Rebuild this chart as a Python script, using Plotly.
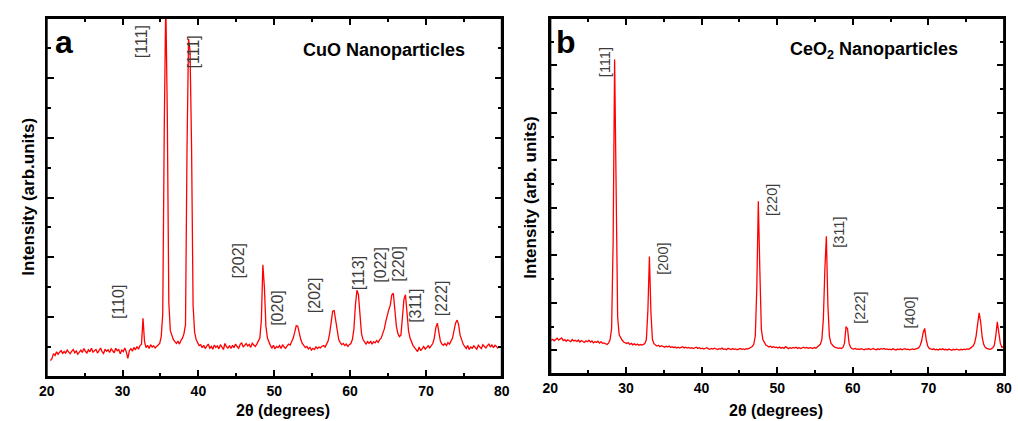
import plotly.graph_objects as go

# ---------------- data ----------------
# CuO pattern: 2theta sampled every 0.2 deg from 20.5 deg
cuo_start, cuo_step = 20.5, 0.2
cuo_intensity = [
    0.55, 0.62, 0.78, 0.72, 0.84, 0.76, 0.83, 0.88, 0.79, 0.85,   # 20.5
    0.80, 0.90, 0.83, 0.78, 0.86, 0.92, 0.81, 0.87, 0.76, 0.84,   # 22.5
    0.90, 0.82, 0.95, 0.86, 0.80, 0.91, 0.84, 0.96, 0.83, 0.88,   # 24.5
    0.92, 0.80, 0.89, 0.97, 0.85, 0.79, 0.93, 0.86, 0.91, 0.82,   # 26.5
    0.94, 0.87, 0.81, 0.96, 0.88, 0.92, 0.78, 0.90, 0.85, 0.97,   # 28.5
    0.84, 0.62, 0.88, 0.95, 0.86, 0.99, 0.91, 1.02, 0.93, 1.05,   # 30.5
    1.10, 1.96, 1.18, 0.98, 1.06, 0.95, 1.08, 1.00, 1.04, 0.97,   # 32.5
    1.03, 1.08, 1.12, 1.35, 2.10, 8.30, 12.60, 8.80, 2.50, 1.55,  # 34.5
    1.35, 1.25, 1.18, 1.12, 1.20, 1.10, 1.22, 1.30, 1.45, 1.75,   # 36.5
    7.60, 11.30, 10.90, 7.70, 2.40, 1.50, 1.25, 1.12, 1.05, 1.08, # 38.5
    0.98, 1.06, 0.95, 1.03, 1.10, 0.96, 1.02, 0.93, 1.07, 0.99,   # 40.5
    1.04, 0.94, 1.08, 1.00, 0.92, 1.12, 1.01, 0.97, 1.05, 0.95,   # 42.5
    1.06, 0.98, 1.10, 1.02, 0.96, 1.08, 1.15, 1.00, 1.06, 1.12,   # 44.5
    1.04, 1.09, 0.99, 1.13, 1.07, 1.02, 1.10, 1.18, 1.30, 1.90,   # 46.5
    3.75, 3.00, 1.70, 1.30, 1.15, 1.05, 0.97, 1.06, 0.94, 1.02,   # 48.5
    0.98, 1.05, 0.95, 1.08, 1.00, 0.96, 1.04, 1.10, 1.07, 1.18,   # 50.5
    1.30, 1.50, 1.72, 1.70, 1.45, 1.25, 1.12, 1.05, 0.98, 1.02,   # 52.5
    0.94, 0.99, 0.90, 0.96, 0.92, 1.01, 0.95, 1.00, 0.97, 1.03,   # 54.5
    1.05, 1.00, 1.10, 1.20, 1.45, 1.85, 2.20, 2.22, 1.90, 1.50,   # 56.5
    1.25, 1.15, 1.08, 1.12, 1.05, 1.10, 1.02, 1.08, 1.12, 1.25,   # 58.5
    1.60, 2.40, 2.90, 2.75, 2.00, 1.45, 1.25, 1.15, 1.10, 1.18,   # 60.5
    1.12, 1.20, 1.10, 1.18, 1.14, 1.22, 1.16, 1.25, 1.30, 1.45,   # 62.5
    1.60, 1.85, 2.10, 2.25, 2.40, 2.75, 2.80, 2.30, 1.70, 1.45,   # 64.5
    1.35, 1.40, 1.90, 2.60, 2.75, 2.10, 1.55, 1.30, 1.15, 1.05,   # 66.5
    0.98, 0.92, 0.85, 1.00, 0.88, 0.95, 1.02, 0.93, 0.99, 1.04,   # 68.5
    0.97, 1.05, 1.12, 1.30, 1.65, 1.80, 1.45, 1.20, 1.10, 1.06,   # 70.5
    1.12, 1.05, 1.15, 1.10, 1.20, 1.30, 1.55, 1.80, 1.90, 1.75,   # 72.5
    1.40, 1.20, 1.10, 1.02, 0.95, 1.05, 0.92, 1.00, 0.96, 1.04,   # 74.5
    0.98, 0.93, 1.06, 1.00, 0.95, 1.08, 1.02, 0.97, 1.05, 1.10,   # 76.5
    1.00, 1.08, 0.98, 1.06, 1.02, 0.95,                           # 78.5
]

# CeO2 pattern: 2theta sampled every 0.2 deg from 20.1 deg
ceo2_start, ceo2_step = 20.1, 0.2
ceo2_intensity = [
    1.42, 1.46, 1.40, 1.48, 1.51, 1.43, 1.47, 1.52, 1.41, 1.45,   # 20.1
    1.38, 1.44, 1.40, 1.36, 1.45, 1.39, 1.42, 1.37, 1.43, 1.35,   # 22.1
    1.41, 1.38, 1.33, 1.40, 1.36, 1.42, 1.34, 1.39, 1.31, 1.37,   # 24.1
    1.33, 1.38, 1.30, 1.36, 1.29, 1.31, 1.26, 1.24, 1.30, 1.45,   # 26.1
    1.90, 5.50, 13.25, 8.00, 2.40, 1.65, 1.50, 1.42, 1.35, 1.30,  # 28.1
    1.28, 1.32, 1.25, 1.29, 1.23, 1.27, 1.22, 1.26, 1.21, 1.24,   # 30.1
    1.22, 1.25, 1.28, 1.45, 2.70, 4.95, 2.60, 1.45, 1.28, 1.22,   # 32.1
    1.18, 1.21, 1.15, 1.19, 1.16, 1.13, 1.17, 1.14, 1.18, 1.12,   # 34.1
    1.15, 1.11, 1.14, 1.10, 1.13, 1.09, 1.12, 1.15, 1.10, 1.13,   # 36.1
    1.09, 1.12, 1.08, 1.11, 1.07, 1.10, 1.13, 1.08, 1.11, 1.06,   # 38.1
    1.09, 1.05, 1.08, 1.11, 1.06, 1.04, 1.08, 1.05, 1.09, 1.06,   # 40.1
    1.03, 1.07, 1.05, 1.09, 1.04, 1.06, 1.02, 1.08, 1.05, 1.03,   # 42.1
    1.07, 1.04, 1.06, 1.02, 1.05, 1.08, 1.04, 1.06, 1.03, 1.07,   # 44.1
    1.05, 1.08, 1.10, 1.16, 1.25, 1.60, 3.60, 7.28, 4.40, 1.90,   # 46.1
    1.45, 1.30, 1.22, 1.18, 1.14, 1.17, 1.12, 1.15, 1.11, 1.13,   # 48.1
    1.10, 1.14, 1.09, 1.12, 1.08, 1.15, 1.10, 1.07, 1.11, 1.08,   # 50.1
    1.12, 1.09, 1.13, 1.08, 1.11, 1.07, 1.10, 1.13, 1.09, 1.12,   # 52.1
    1.08, 1.11, 1.10, 1.07, 1.12, 1.09, 1.14, 1.18, 1.25, 1.45,   # 54.1
    2.30, 4.40, 5.80, 2.90, 1.60, 1.30, 1.20, 1.15, 1.12, 1.10,   # 56.1
    1.08, 1.10, 1.07, 1.12, 1.30, 2.00, 1.90, 1.30, 1.12, 1.07,   # 58.1
    1.05, 1.08, 1.04, 1.06, 1.03, 1.07, 1.05, 1.02, 1.06, 1.04,   # 60.1
    1.07, 1.03, 1.05, 1.08, 1.04, 1.02, 1.06, 1.03, 1.07, 1.05,   # 62.1
    1.08, 1.04, 1.06, 1.03, 1.05, 1.02, 1.06, 1.04, 1.01, 1.05,   # 64.1
    1.03, 1.06, 1.02, 1.05, 1.07, 1.03, 1.05, 1.02, 1.04, 1.06,   # 66.1
    1.03, 1.05, 1.08, 1.10, 1.20, 1.40, 1.75, 1.92, 1.45, 1.18,   # 68.1
    1.08, 1.05, 1.03, 1.06, 1.02, 1.04, 1.01, 1.05, 1.03, 1.06,   # 70.1
    1.02, 1.04, 1.01, 1.05, 1.03, 1.00, 1.04, 1.02, 1.05, 1.03,   # 72.1
    1.01, 1.04, 1.02, 1.05, 1.03, 1.06, 1.04, 1.08, 1.12, 1.18,   # 74.1
    1.30, 1.60, 2.10, 2.58, 2.20, 1.55, 1.25, 1.12, 1.08, 1.05,   # 76.1
    1.04, 1.06, 1.10, 1.20, 1.60, 2.20, 1.80, 1.30, 1.12, 1.15,   # 78.1
]

# Peak (Miller index) labels
cuo_labels = ["[110]", "[111]", "[111]", "[202]", "[020]", "[202]",
              "[113]", "[022]", "[220]", "[311]", "[222]"]
cuo_label_theta = [29.45, 32.6, 39.3, 45.25, 50.45, 55.3, 61.15, 64.0, 66.45, 68.6, 72.05]
cuo_label_y = [2.52, 11.2, 10.85, 3.9, 2.3, 2.75, 3.46, 3.77, 3.79, 2.39, 2.62]

ceo2_labels = ["[111]", "[200]", "[220]", "[311]", "[222]", "[400]"]
ceo2_label_theta = [27.33, 34.88, 49.24, 58.13, 60.9, 67.6]
ceo2_label_y = [13.13, 4.85, 7.35, 5.98, 2.78, 2.6]

x_tick_values = [20, 30, 40, 50, 60, 70, 80]
x_tick_labels = ["20", "30", "40", "50", "60", "70", "80"]

cuo_theta = [round(cuo_start + cuo_step * i, 2) for i in range(len(cuo_intensity))]
ceo2_theta = [round(ceo2_start + ceo2_step * i, 2) for i in range(len(ceo2_intensity))]

# ---------------- figure ----------------
FONT = "Liberation Sans, Arial, Helvetica, sans-serif"
RED = "#ff0000"
W, H = 1018, 421


def px_x(px):
    return px / W


def px_y(py):
    return 1 - py / H


fig = go.Figure()
fig.add_trace(go.Scatter(x=cuo_theta, y=cuo_intensity, mode="lines",
                         line=dict(color=RED, width=1.3), xaxis="x", yaxis="y",
                         showlegend=False, hoverinfo="skip"))
fig.add_trace(go.Scatter(x=ceo2_theta, y=ceo2_intensity, mode="lines",
                         line=dict(color=RED, width=1.3), xaxis="x2", yaxis="y2",
                         showlegend=False, hoverinfo="skip"))


def xaxis_style(domain, anchor):
    return dict(domain=domain, anchor=anchor, range=[20, 80],
                tickmode="array", tickvals=x_tick_values, ticktext=x_tick_labels,
                ticks="inside", ticklen=7, tickwidth=1.6, tickcolor="black",
                minor=dict(ticks="inside", ticklen=4, tickwidth=1.6, tickcolor="black",
                           tickmode="linear", tick0=25, dtick=10),
                showline=True, linewidth=2, linecolor="black", mirror="allticks",
                showgrid=False, zeroline=False,
                tickfont=dict(family=FONT, size=14, color="black", weight="bold"))


def yaxis_style(domain, anchor, rng, tick0):
    return dict(domain=domain, anchor=anchor, range=rng,
                tickmode="linear", tick0=tick0, dtick=2,
                ticks="inside", ticklen=7, tickwidth=1.6, tickcolor="black",
                minor=dict(ticks="inside", ticklen=4, tickwidth=1.6, tickcolor="black",
                           tickmode="linear", tick0=tick0 + 1, dtick=2),
                showline=True, linewidth=2, linecolor="black", mirror="allticks",
                showgrid=False, zeroline=False, showticklabels=False)


fig.update_layout(
    width=W, height=H, autosize=False,
    margin=dict(l=0, r=0, t=0, b=0, pad=0),
    paper_bgcolor="white", plot_bgcolor="white",
    xaxis=xaxis_style([px_x(39.3), px_x(501.7)], "y"),
    yaxis=yaxis_style([px_y(377), px_y(18)], "x", [0, 12], 0),
    xaxis2=xaxis_style([px_x(551), px_x(1012)], "y2"),
    yaxis2=yaxis_style([px_y(374), px_y(18)], "x2", [0, 15], 1),
)

frames = []
for xr, yr in (("x domain", "y domain"), ("x2 domain", "y2 domain")):
    frames.append(dict(type="rect", xref=xr, yref=yr, x0=0, x1=1, y0=0, y1=1,
                       line=dict(color="black", width=2), fillcolor="rgba(0,0,0,0)",
                       layer="above"))
fig.update_layout(shapes=frames)

ann = []
for t, xv, yv in zip(cuo_labels, cuo_label_theta, cuo_label_y):
    ann.append(dict(text=t, x=xv, y=yv, xref="x", yref="y", showarrow=False,
                    textangle=-90, xanchor="center", yanchor="middle",
                    font=dict(family=FONT, size=16, color="#3c3c3c")))
for t, xv, yv in zip(ceo2_labels, ceo2_label_theta, ceo2_label_y):
    ann.append(dict(text=t, x=xv, y=yv, xref="x2", yref="y2", showarrow=False,
                    textangle=-90, xanchor="center", yanchor="middle",
                    font=dict(family=FONT, size=14.5, color="#3c3c3c")))


def paper_text(text, px, py, size, angle=0):
    return dict(text=text, x=px_x(px), y=px_y(py), xref="paper", yref="paper",
                showarrow=False, textangle=angle, xanchor="center", yanchor="middle",
                font=dict(family=FONT, size=size, color="black", weight="bold"))


ann += [
    paper_text("a", 57, 42, 32),
    paper_text("b", 567, 42, 32),
    paper_text("CuO Nanoparticles", 382, 50, 18),
    paper_text("CeO<sub>2</sub> Nanoparticles", 880, 51, 18),
    paper_text("2θ (degrees)", 279, 410, 16),
    paper_text("2θ (degrees)", 780, 410, 16),
    paper_text("Intensity (arb.units)", 20, 197, 17, -90),
    paper_text("Intensity (arb. units)", 530, 198, 17, -90),
]
fig.update_layout(annotations=ann)

fig.write_html("out.html",
               config={"displayModeBar": False, "responsive": False},
               post_script="document.body.style.margin='0px';"
                           "document.body.style.overflow='hidden';")
